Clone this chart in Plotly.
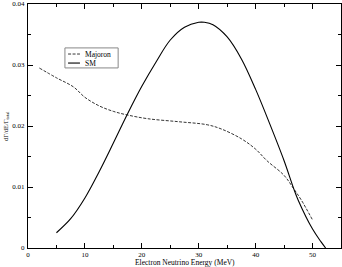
import plotly.graph_objects as go

sm_x = [5, 7.5, 10, 12.5, 15, 17.5, 20, 22.5, 25, 27.5, 30, 31, 32.5, 35, 37.5, 40, 42.5, 45, 46.7, 47.5, 50, 51.5, 52.3]
sm_y = [0.0025, 0.0048, 0.0082, 0.0125, 0.0172, 0.022, 0.0265, 0.0305, 0.0341, 0.0362, 0.0370, 0.0370, 0.0366, 0.0346, 0.0310, 0.0260, 0.0203, 0.0143, 0.0097, 0.0078, 0.0031, 0.0010, 0.0]

maj_x = [2, 5, 8, 10, 12.5, 15, 17.5, 21, 26.5, 31.5, 34, 37.5, 40, 42, 45, 46.7, 48, 50]
maj_y = [0.0295, 0.0279, 0.0264, 0.0247, 0.0233, 0.0224, 0.0218, 0.0212, 0.0207, 0.0202, 0.0195, 0.0179, 0.0162, 0.0143, 0.0119, 0.0097, 0.0079, 0.0046]

x_ticks = [0, 10, 20, 30, 40, 50]
y_ticks = [0, 0.01, 0.02, 0.03, 0.04]
y_labels = ["0", "0.01", "0.02", "0.03", "0.04"]

FONT = "Liberation Serif"
maj_line = dict(color="black", width=0.8, dash="3px,1.5px")
sm_line = dict(color="black", width=1.1)

fig = go.Figure()
fig.add_trace(go.Scatter(x=maj_x, y=maj_y, mode="lines", name="Majoron",
                         line=dict(shape="spline", **maj_line), showlegend=False))
fig.add_trace(go.Scatter(x=sm_x, y=sm_y, mode="lines", name="SM",
                         line=dict(shape="spline", **sm_line), showlegend=False))

axis_common = dict(showgrid=False, zeroline=False, showline=True, linecolor="black", linewidth=1,
                   mirror="allticks", ticks="inside", ticklen=5, tickcolor="black", tickwidth=1,
                   automargin=False,
                   tickfont=dict(family=FONT, size=7, color="black"))

fig.update_xaxes(range=[0, 55], tickvals=x_ticks, ticktext=[str(v) for v in x_ticks],
                 minor=dict(dtick=5, ticks="inside", ticklen=3, tickcolor="black"),
                 ticklabelstandoff=0,
                 **axis_common)
fig.update_yaxes(range=[0, 0.04], tickvals=y_ticks, ticktext=y_labels,
                 minor=dict(dtick=0.005, ticks="inside", ticklen=3, tickcolor="black"),
                 ticklabelstandoff=1,
                 **axis_common)

annotations = [
    dict(text="Electron Neutrino Energy (MeV)", xref="paper", yref="paper", x=0.5, y=-0.058,
         xanchor="center", yanchor="middle", borderpad=0, showarrow=False,
         font=dict(family=FONT, size=7.5, color="black")),
    dict(text="dΓ/dE/Γ<sub>total</sub>", xref="paper", yref="paper", x=-0.07, y=0.5,
         xanchor="center", yanchor="middle", textangle=-90, showarrow=False,
         font=dict(family=FONT, size=6.5, color="black")),
    dict(text="Majoron", xref="paper", yref="paper", x=0.176, y=0.795, xanchor="left", yanchor="middle",
         showarrow=False, font=dict(family=FONT, size=7.5, color="black")),
    dict(text="SM", xref="paper", yref="paper", x=0.176, y=0.758, xanchor="left", yanchor="middle",
         showarrow=False, font=dict(family=FONT, size=7.5, color="black")),
]
shapes = [
    dict(type="rect", xref="paper", yref="paper", x0=0.118, x1=0.288, y0=0.738, y1=0.820,
         line=dict(color="#888", width=1), fillcolor="white", layer="above"),
    dict(type="line", xref="paper", yref="paper", x0=0.128, x1=0.166, y0=0.795, y1=0.795, line=maj_line),
    dict(type="line", xref="paper", yref="paper", x0=0.128, x1=0.166, y0=0.758, y1=0.758, line=sm_line),
]

fig.update_layout(
    width=342, height=267,
    margin=dict(l=28, r=1, t=4, b=19),
    plot_bgcolor="white", paper_bgcolor="white",
    showlegend=False,
    annotations=annotations,
    shapes=shapes,
)

fig.write_html("out.html", config={"displayModeBar": False},
               post_script="document.body.style.margin='0';document.body.style.overflow='hidden';")
